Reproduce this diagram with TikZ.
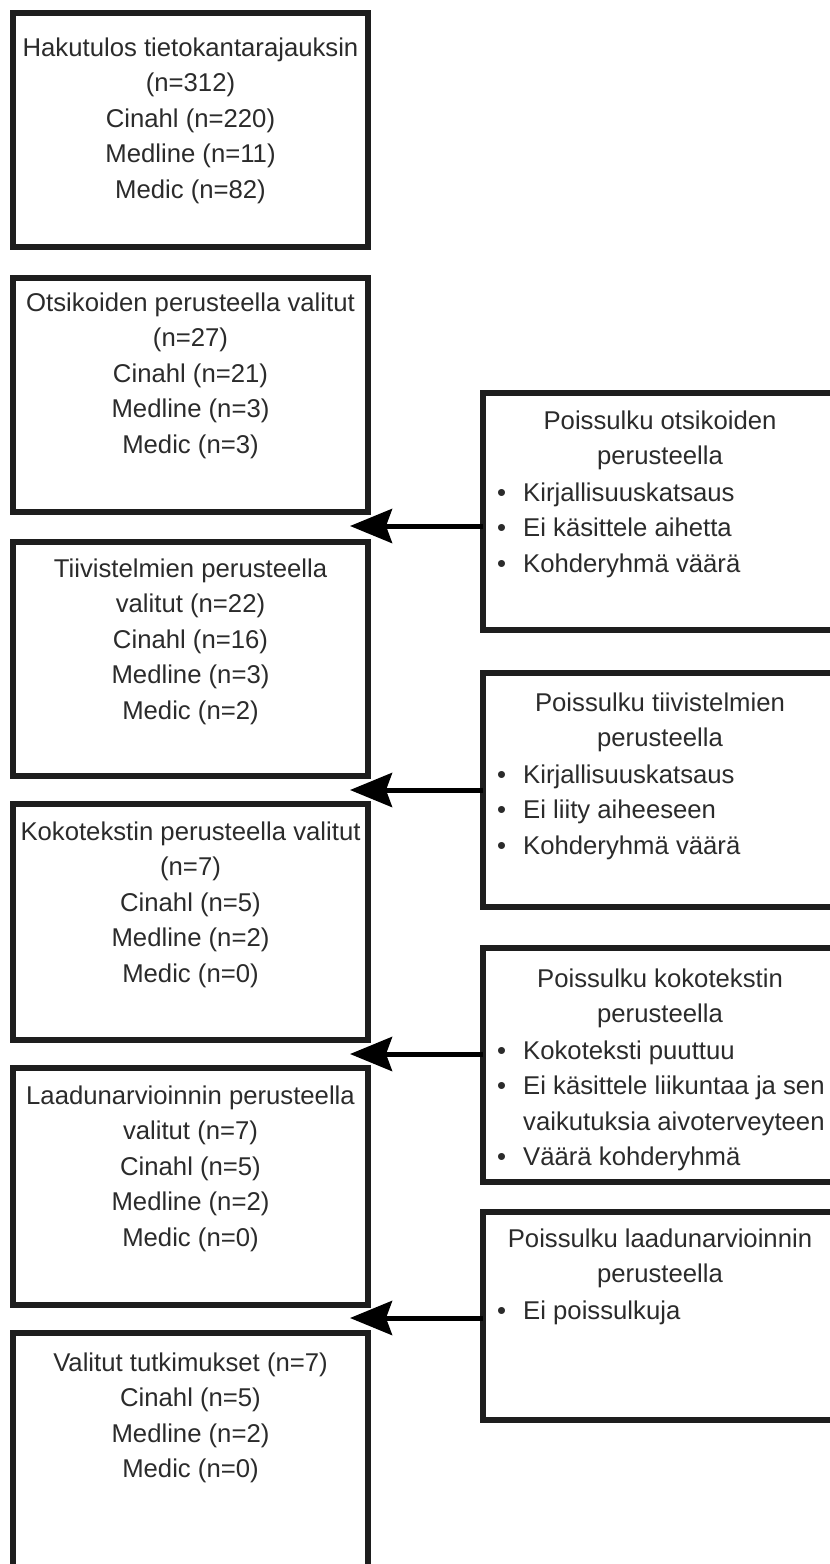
\documentclass[tikz,border=0pt]{standalone}
\usepackage{fontspec}
\setmainfont{Liberation Sans}
\usetikzlibrary{arrows.meta}
\definecolor{boxline}{HTML}{1E1E1E}
\definecolor{txtcol}{HTML}{2B2B2B}
\tikzset{
  lbox/.style={draw=boxline, line width=6.5pt, minimum width=355pt, outer sep=0pt, inner sep=0pt},
  rbox/.style={draw=boxline, line width=6.5pt, minimum width=357pt, outer sep=0pt, inner sep=0pt},
  ctext/.style={anchor=north, align=center, inner sep=0pt, text=txtcol, font=\fontsize{25.7}{35.5}\selectfont},
  ltext/.style={anchor=north west, align=left, inner sep=0pt, text=txtcol, font=\fontsize{25.7}{35.5}\selectfont},
  flow/.style={line width=5pt, draw=black, -{Stealth[length=42pt,width=34pt,inset=6pt]}},
}
\newcommand{\bul}[1]{\makebox[26pt][l]{•}#1}
\begin{document}
\begin{tikzpicture}[x=1pt,y=-1pt]
\useasboundingbox (0,0) rectangle (830,1564);
\clip (0,0) rectangle (830,1564);
\fill[white] (0,0) rectangle (830,1564);

% left boxes
\node[lbox, minimum height=234pt] (b1) at (190.5,130) {};
\node[lbox, minimum height=234pt] (b2) at (190.5,395) {};
\node[lbox, minimum height=234pt] (b3) at (190.5,659) {};
\node[lbox, minimum height=236pt] (b4) at (190.5,922) {};
\node[lbox, minimum height=237pt] (b5) at (190.5,1186.5) {};
\node[lbox, minimum height=240pt] (b6) at (190.5,1453) {};

% right boxes
\node[rbox, minimum height=237pt] (r1) at (661.5,511.5) {};
\node[rbox, minimum height=234pt] (r2) at (661.5,790) {};
\node[rbox, minimum height=234pt] (r3) at (661.5,1065) {};
\node[rbox, minimum height=208pt] (r4) at (661.5,1316) {};

% left texts
\node[ctext] (t1) at (190.5,37.5) {Hakutulos tietokantarajauksin\\(n=312)\\Cinahl (n=220)\\Medline (n=11)\\Medic (n=82)};
\node[ctext] (t2) at (190.5,292.5) {Otsikoiden perusteella valitut\\(n=27)\\Cinahl (n=21)\\Medline (n=3)\\Medic (n=3)};
\node[ctext] (t3) at (190.5,558.5) {Tiivistelmien perusteella\\valitut (n=22)\\Cinahl (n=16)\\Medline (n=3)\\Medic (n=2)};
\node[ctext] (t4) at (190.5,821.5) {Kokotekstin perusteella valitut\\(n=7)\\Cinahl (n=5)\\Medline (n=2)\\Medic (n=0)};
\node[ctext] (t5) at (190.5,1085.5) {Laadunarvioinnin perusteella\\valitut (n=7)\\Cinahl (n=5)\\Medline (n=2)\\Medic (n=0)};
\node[ctext] (t6) at (190.5,1352.5) {Valitut tutkimukset (n=7)\\Cinahl (n=5)\\Medline (n=2)\\Medic (n=0)};

% right texts
\node[ctext] (h1) at (660,410.5) {Poissulku otsikoiden\\perusteella};
\node[ltext] (l1) at (497,482.5) {\bul{Kirjallisuuskatsaus}\\\bul{Ei käsittele aihetta}\\\bul{Kohderyhmä väärä}};
\node[ctext] (h2) at (660,692.5) {Poissulku tiivistelmien\\perusteella};
\node[ltext] (l2) at (497,764.5) {\bul{Kirjallisuuskatsaus}\\\bul{Ei liity aiheeseen}\\\bul{Kohderyhmä väärä}};
\node[ctext] (h3) at (660,968.5) {Poissulku kokotekstin\\perusteella};
\node[ltext] (l3) at (497,1040.5) {\bul{Kokoteksti puuttuu}\\\bul{Ei käsittele liikuntaa ja sen}\\\hspace*{26pt}vaikutuksia aivoterveyteen\\\bul{Väärä kohderyhmä}};
\node[ctext] (h4) at (660,1228.5) {Poissulku laadunarvioinnin\\perusteella};
\node[ltext] (l4) at (497,1300.5) {\bul{Ei poissulkuja}};

% arrows
\coordinate (a1) at (350,526);
\coordinate (a2) at (350,790);
\coordinate (a3) at (350,1054);
\coordinate (a4) at (350,1318);
\draw[flow] (r1.west |- a1) -- (a1);
\draw[flow] (r2.west |- a2) -- (a2);
\draw[flow] (r3.west |- a3) -- (a3);
\draw[flow] (r4.west |- a4) -- (a4);
\end{tikzpicture}
\end{document}
